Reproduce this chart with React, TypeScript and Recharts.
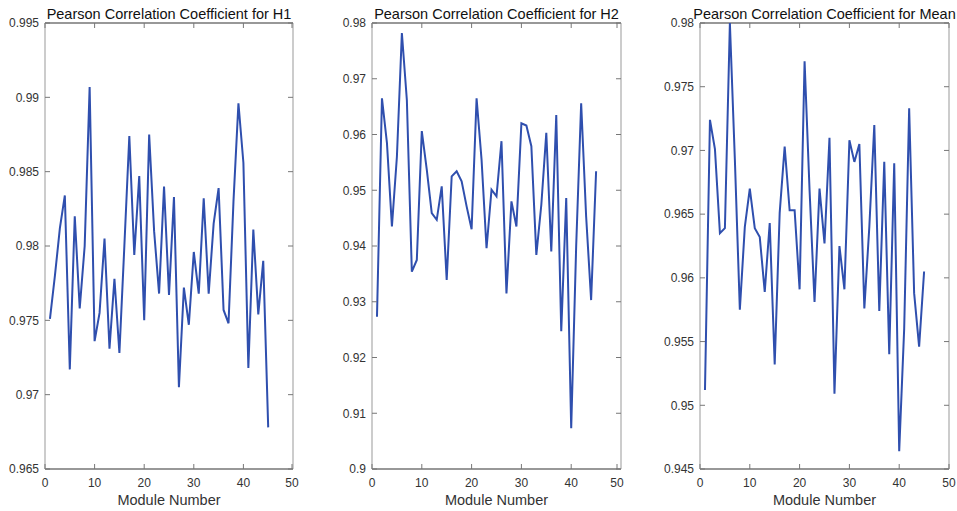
import { LineChart, Line, XAxis, YAxis, ReferenceLine } from "recharts";

const modules = [
  1, 2, 3, 4, 5, 6, 7, 8, 9, 10, 11, 12, 13, 14, 15, 16, 17, 18, 19, 20, 21, 22, 23,
  24, 25, 26, 27, 28, 29, 30, 31, 32, 33, 34, 35, 36, 37, 38, 39, 40, 41, 42, 43, 44, 45,
];

const h1 = [
  0.9751, 0.978, 0.9812, 0.9834, 0.9717, 0.982, 0.9758, 0.98, 0.9907, 0.9736, 0.9755,
  0.9805, 0.9731, 0.9778, 0.9728, 0.98, 0.9874, 0.9794, 0.9847, 0.975, 0.9875, 0.981,
  0.9768, 0.984, 0.9767, 0.9833, 0.9705, 0.9772, 0.9747, 0.9796, 0.9768, 0.9832, 0.9768,
  0.9815, 0.9839, 0.9757, 0.9748, 0.983, 0.9896, 0.9856, 0.9718, 0.9811, 0.9754, 0.979,
  0.9678,
];

const h2 = [
  0.9273, 0.9665, 0.9585, 0.9435, 0.956, 0.9782, 0.9662, 0.9354, 0.9375, 0.9606, 0.9537,
  0.9459, 0.9447, 0.9507, 0.9339, 0.9525, 0.9534, 0.9516, 0.9471, 0.943, 0.9665, 0.9555,
  0.9396, 0.9501, 0.9489, 0.9588, 0.9315, 0.948, 0.9435, 0.962, 0.9616, 0.9579, 0.9384,
  0.9474, 0.9603, 0.939, 0.9635, 0.9247, 0.9486, 0.9073, 0.94, 0.9656, 0.9453, 0.9303,
  0.9534,
];

const meanVals = [
  0.9512, 0.9724, 0.9701, 0.9635, 0.9639, 0.98, 0.9693, 0.9575, 0.964, 0.967, 0.9639,
  0.9632, 0.9589, 0.9643, 0.9532, 0.9651, 0.9703, 0.9653, 0.9653, 0.9591, 0.977, 0.9669,
  0.9581, 0.967, 0.9627, 0.971, 0.9509, 0.9625, 0.9591, 0.9708, 0.9691, 0.9705, 0.9576,
  0.964, 0.972, 0.9574, 0.9691, 0.954, 0.969, 0.9464, 0.956, 0.9733, 0.9588, 0.9546,
  0.9605,
];

const xTicks = [0, 10, 20, 30, 40, 50];
const h1Ticks = [0.965, 0.97, 0.975, 0.98, 0.985, 0.99, 0.995];
const h2Ticks = [0.9, 0.91, 0.92, 0.93, 0.94, 0.95, 0.96, 0.97, 0.98];
const meanTicks = [0.945, 0.95, 0.955, 0.96, 0.965, 0.97, 0.975, 0.98];

const FONT = '"Liberation Sans", Arial, sans-serif';
const LINE = "#2f4fae";
const DARK = "#333";
const LIGHT = "#999";
const TICK = "#777";
const TOP = 23;
const PH = 446; // plot height
const XM = 9; // tick label margins
const YM = 6;

// inward ticks on both sides of the box, drawn with the label
function XTick({ x, y, payload }: any) {
  const base = y - XM;
  return (
    <g>
      <line x1={x} x2={x} y1={base} y2={base - 5} stroke={TICK} />
      <line x1={x} x2={x} y1={base - PH} y2={base - PH + 5} stroke={TICK} />
      <text x={x} y={y} dy="0.71em" textAnchor="middle" fill={DARK} fontSize={12} fontFamily={FONT}>
        {payload.value}
      </text>
    </g>
  );
}

function makeYTick(pw: number) {
  return function YTick({ x, y, payload }: any) {
    const base = x + YM;
    return (
      <g>
        <line x1={base} x2={base + 5} y1={y} y2={y} stroke={TICK} />
        <line x1={base + pw} x2={base + pw - 5} y1={y} y2={y} stroke={TICK} />
        <text x={x} y={y} dy="0.355em" textAnchor="end" fill={DARK} fontSize={12} fontFamily={FONT}>
          {payload.value}
        </text>
      </g>
    );
  };
}

function Panel({ left, width, axisW, rightM, title, values, yTicks }: {
  left: number;
  width: number;
  axisW: number;
  rightM: number;
  title: string;
  values: number[];
  yTicks: number[];
}) {
  const data = modules.map((m, i) => ({ m, v: values[i] }));
  const lo = yTicks[0];
  const hi = yTicks[yTicks.length - 1];
  const pw = width - axisW - rightM;
  const YTick = makeYTick(pw);
  return (
    <div style={{ position: "absolute", left, top: 0, width, height: 511 }}>
      <div
        style={{
          position: "absolute",
          left: axisW + pw / 2 - 200,
          width: 400,
          top: 7,
          textAlign: "center",
          fontFamily: FONT,
          fontSize: 14.5,
          lineHeight: "14px",
          color: "#111",
          whiteSpace: "nowrap",
        }}
      >
        {title}
      </div>
      <LineChart width={width} height={511} data={data} margin={{ top: TOP, right: rightM, bottom: 0, left: 0 }}>
        <XAxis
          dataKey="m"
          type="number"
          domain={[0, 50]}
          ticks={xTicks}
          tick={<XTick />}
          tickSize={0}
          tickMargin={XM}
          axisLine={false}
          tickLine={false}
          height={42}
          label={{ value: "Module Number", position: "insideBottom", offset: 6, fill: DARK, fontSize: 14.5, fontFamily: FONT }}
        />
        <YAxis
          type="number"
          domain={[lo, hi]}
          ticks={yTicks}
          tick={<YTick />}
          tickSize={0}
          tickMargin={YM}
          width={axisW}
          axisLine={false}
          tickLine={false}
          allowDataOverflow
        />
        <ReferenceLine y={hi} stroke={DARK} strokeWidth={1.2} ifOverflow="visible" />
        <ReferenceLine y={lo} stroke={DARK} strokeWidth={1.2} ifOverflow="visible" />
        <ReferenceLine x={0} stroke={LIGHT} ifOverflow="visible" />
        <ReferenceLine x={50} stroke={LIGHT} ifOverflow="visible" />
        <Line
          type="linear"
          dataKey="v"
          stroke={LINE}
          strokeWidth={2}
          dot={false}
          isAnimationActive={false}
        />
      </LineChart>
    </div>
  );
}

export default function App() {
  return (
    <div style={{ position: "absolute", left: 0, top: 0, width: 957, height: 511, background: "#fff" }}>
      <Panel left={0} width={300} axisW={45} rightM={7} title="Pearson Correlation Coefficient for H1" values={h1} yTicks={h1Ticks} />
      <Panel left={310} width={315} axisW={62} rightM={4} title="Pearson Correlation Coefficient for H2" values={h2} yTicks={h2Ticks} />
      <Panel left={640} width={317} axisW={60} rightM={8} title="Pearson Correlation Coefficient for Mean" values={meanVals} yTicks={meanTicks} />
    </div>
  );
}
